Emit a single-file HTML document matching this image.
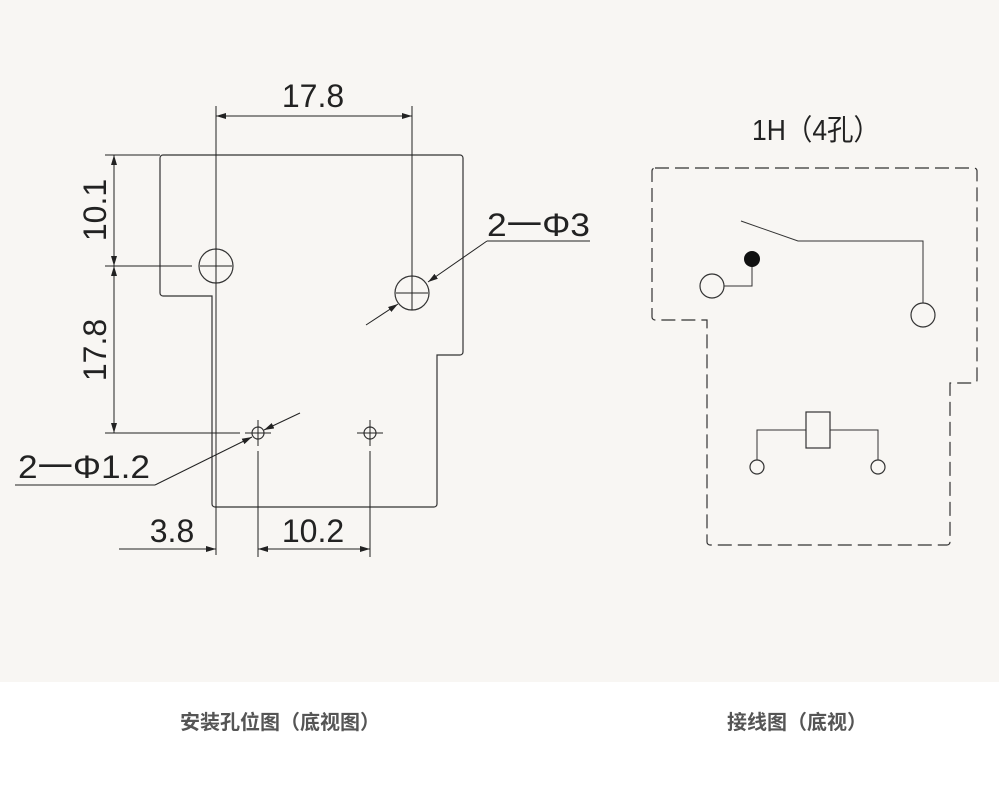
<!DOCTYPE html>
<html><head><meta charset="utf-8"><style>
html,body{margin:0;padding:0;width:999px;height:787px;overflow:hidden;background:#fff}
.top{position:absolute;left:0;top:0;width:999px;height:682px;background:#f8f6f3}
.cap{position:absolute;top:706px;font:bold 20px "Liberation Sans","Noto Sans CJK SC",sans-serif;color:#555}
svg{position:absolute;left:0;top:0}
</style></head><body>
<div class="top"></div>
<svg width="999" height="787" viewBox="0 0 999 787" font-family="'Liberation Sans','Noto Sans CJK SC',sans-serif">
<defs><marker id="a" viewBox="0 0 10 6" refX="10" refY="3" markerWidth="10" markerHeight="6" orient="auto-start-reverse" markerUnits="userSpaceOnUse"><path d="M0,0L10,3L0,6z" fill="#222"/></marker></defs>
<g fill="none" stroke="#333" stroke-width="1.2">
<path d="M163,155H460a3,3 0 0 1 3,3V352a3,3 0 0 1-3,3H437V504a3,3 0 0 1-3,3H215a3,3 0 0 1-3-3V296H163a3,3 0 0 1-3-3V158a3,3 0 0 1 3-3z"/>
<circle cx="216" cy="266" r="17"/><circle cx="412" cy="293" r="17"/>
<circle cx="258" cy="433" r="6"/><circle cx="370" cy="433" r="6"/>
</g>
<g stroke="#222" stroke-width="1" fill="none">
<path d="M216,106V555M412,106V310M396,293H428M200,266H232M245,433H271M258,420V446M357,433H383M370,420V446M258,451V557M370,451V557"/>
<path d="M105,155H160M105,266H192M105,433H240"/>
<line x1="216" y1="116" x2="412" y2="116" marker-start="url(#a)" marker-end="url(#a)"/>
<line x1="114" y1="155" x2="114" y2="266" marker-start="url(#a)" marker-end="url(#a)"/>
<line x1="114" y1="266" x2="114" y2="433" marker-start="url(#a)" marker-end="url(#a)"/>
<line x1="119" y1="549" x2="216" y2="549" marker-end="url(#a)"/>
<line x1="258" y1="549" x2="370" y2="549" marker-start="url(#a)" marker-end="url(#a)"/>
<path d="M15,485H155"/><line x1="155" y1="485" x2="252" y2="437" marker-end="url(#a)"/>
<line x1="300" y1="413" x2="264" y2="430" marker-end="url(#a)"/>
<path d="M487,241H590"/><line x1="487" y1="241" x2="428" y2="282" marker-end="url(#a)"/>
<line x1="366" y1="325" x2="398" y2="304" marker-end="url(#a)"/>
</g>
<g fill="#222" font-size="32">
<text x="313" y="107" text-anchor="middle">17.8</text>
<text transform="translate(106,210) rotate(-90)" text-anchor="middle">10.1</text>
<text transform="translate(106,350) rotate(-90)" text-anchor="middle">17.8</text>
<text x="172" y="542" text-anchor="middle">3.8</text>
<text x="313" y="542" text-anchor="middle">10.2</text>
<text x="18" y="478" textLength="132" lengthAdjust="spacingAndGlyphs">2一Φ1.2</text>
<text x="487" y="236" textLength="103" lengthAdjust="spacingAndGlyphs">2一Φ3</text>
<text x="752" y="140" font-size="29" textLength="128" lengthAdjust="spacingAndGlyphs">1H（4孔）</text>
</g>
<g fill="none" stroke="#333" stroke-width="1.2">
<path d="M655,168H974a3,3 0 0 1 3,3V380a3,3 0 0 1-3,3H950V542a3,3 0 0 1-3,3H710a3,3 0 0 1-3-3V320H655a3,3 0 0 1-3-3V171a3,3 0 0 1 3-3z" stroke-dasharray="14,6"/>
<path d="M741,221L798,241H923V303M752,259V286H724M757,460V430H806M830,430H878V460" stroke-width="1"/>
<circle cx="923" cy="315" r="12"/><circle cx="712" cy="286" r="12"/>
<rect x="806" y="412" width="24" height="36"/>
<circle cx="757" cy="467" r="7"/><circle cx="878" cy="467" r="7"/>
</g>
<circle cx="752" cy="259" r="8" fill="#111"/>
</svg>
<div class="cap" style="left:180px">安装孔位图（底视图）</div>
<div class="cap" style="left:727px">接线图（底视）</div>
</body></html>
